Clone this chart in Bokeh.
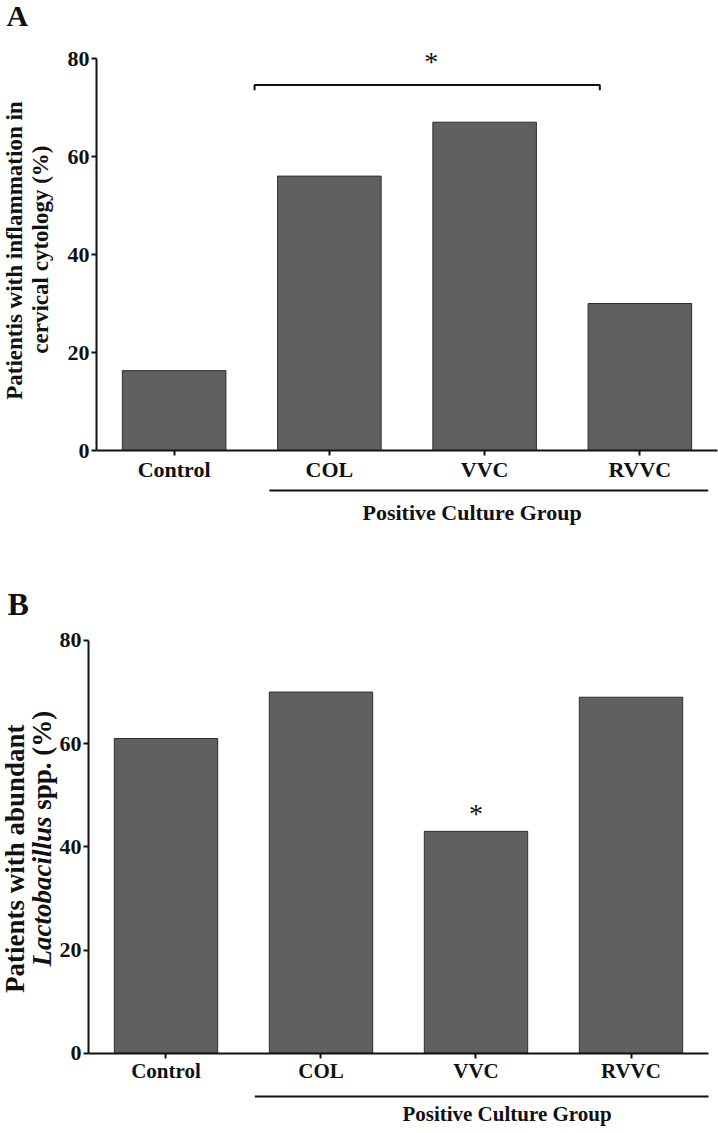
import math
from bokeh.plotting import figure
from bokeh.models import Range1d, FixedTicker, Label, ColumnDataSource
from bokeh.layouts import column
from bokeh.embed import file_html
from bokeh.resources import INLINE
from bokeh.core.properties import value

# ---------------- data ----------------
categories = ["Control", "COL", "VVC", "RVVC"]
inflammation_pct = [16.3, 56, 67, 30]
lactobacillus_pct = [61, 70, 43, 69]
y_ticks = [0, 20, 40, 60, 80]
group_label = "Positive Culture Group"

FONT = "Liberation Serif"
BAR_FILL = "#606060"
BAR_LINE = "#2e2e2e"
INK = "#111111"

# category slots on a numeric scale (slot i spans [i, i+1], centred at i+0.5)
x_pos = [i + 0.5 for i in range(len(categories))]


def make_panel(vals, height, x_range, y_range, tick_fs, xlab_fs):
    p = figure(
        x_range=Range1d(*x_range), y_range=Range1d(*y_range),
        width=718, height=height,
        min_border_left=0, min_border_right=0,
        min_border_top=0, min_border_bottom=0,
        output_backend="svg", toolbar_location=None,
        background_fill_color="white", border_fill_color="white",
    )
    p.outline_line_color = None
    p.grid.visible = False
    src = ColumnDataSource(dict(x=x_pos, cat=categories, val=vals))
    p.vbar(x="x", top="val", width=0.667, source=src,
           fill_color=BAR_FILL, line_color=BAR_LINE, line_width=1)

    xa = p.xaxis[0]
    xa.fixed_location = 0
    xa.bounds = (0, len(categories))
    xa.ticker = FixedTicker(ticks=x_pos)
    xa.major_label_overrides = {x: c for x, c in zip(x_pos, categories)}
    xa.axis_line_width = 2
    xa.axis_line_color = INK
    xa.major_tick_line_width = 2
    xa.major_tick_line_color = INK
    xa.major_tick_in = 0
    xa.major_tick_out = 5
    xa.minor_tick_line_color = None
    xa.major_label_text_font = FONT
    xa.major_label_text_font_style = "bold"
    xa.major_label_text_font_size = xlab_fs
    xa.major_label_text_color = INK
    xa.major_label_standoff = 1

    ya = p.yaxis[0]
    ya.fixed_location = 0
    ya.bounds = (0, 80)
    ya.ticker = FixedTicker(ticks=y_ticks)
    ya.axis_line_width = 2
    ya.axis_line_color = INK
    ya.major_tick_line_width = 2
    ya.major_tick_line_color = INK
    ya.major_tick_in = 0
    ya.major_tick_out = 5
    ya.minor_tick_line_color = None
    ya.major_label_text_font = FONT
    ya.major_label_text_font_style = "bold"
    ya.major_label_text_font_size = tick_fs
    ya.major_label_text_color = INK
    ya.major_label_standoff = 2
    return p


def label(p, x, y, text, size, style="bold", angle=0.0, align="center", baseline="middle"):
    p.add_layout(Label(x=x, y=y, text=text, angle=angle, text_align=align,
                       text_baseline=baseline, text_font=FONT,
                       text_font_style=style, text_font_size=size,
                       text_color=INK))


def star(p, x, y):
    p.text(x=[x], y=[y], text=["*"], text_align="center",
           text_baseline="alphabetic", text_font=value(FONT),
           text_font_size="28px", text_color=INK)


# ---------------- panel A ----------------
pa = make_panel(inflammation_pct, 560, (-0.6184, 4.0064), (-22.449, 91.837), "22px", "22px")
pa.line(x=[1.018, 1.018, 3.242, 3.242], y=[73.5, 74.6, 74.6, 73.5],
        line_color=INK, line_width=2)
star(pa, 2.156, 79.3)
pa.segment(x0=[1.114], y0=[-8.16], x1=[3.94], y1=[-8.16], line_color=INK, line_width=2)
pa.text(x=[2.419], y=[-12.65], text=[group_label], text_align="center",
        text_baseline="middle", text_font=value(FONT), text_font_style="bold",
        text_font_size="22px", text_color=INK)
label(pa, -0.58, 88.8, "A", "30px", align="left")
label(pa, -0.528, 40.8, "Patientis with inflammation in", "23px", angle=math.pi / 2)
label(pa, -0.358, 41.0, "cervical cytology (%)", "23px", angle=math.pi / 2)

# ---------------- panel B ----------------
pb = make_panel(lactobacillus_pct, 570, (-0.5677, 4.0645), (-14.98, 95.5), "22px", "21px")
star(pb, 2.5, 46.4)
pb.segment(x0=[1.073], y0=[-8.4], x1=[4.0], y1=[-8.4], line_color=INK, line_width=2)
pb.text(x=[2.70], y=[-11.7], text=[group_label], text_align="center",
        text_baseline="middle", text_font=value(FONT), text_font_style="bold",
        text_font_size="21px", text_color=INK)
label(pb, -0.523, 87.1, "B", "32px", align="left")
label(pb, -0.477, 37.7, "Patients with abundant", "27px", angle=math.pi / 2)
label(pb, -0.30, 16.8, "Lactobacillus", "27px", style="bold italic",
      angle=math.pi / 2, align="left")
label(pb, -0.30, 47.2, "spp. (%)", "27px", angle=math.pi / 2, align="left")

layout = column(pa, pb, spacing=0)
open("out.html", "w").write(file_html(layout, INLINE))
